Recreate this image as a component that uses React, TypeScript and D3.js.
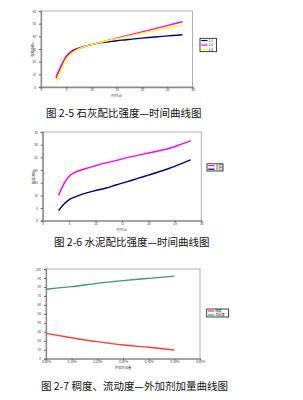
import { useRef, useEffect } from "react";
import * as d3 from "d3";

// figure 2-5: lime mix strength vs time
const limeDays = [3, 4, 5, 6, 7, 8, 10, 12, 14, 16, 18, 20, 22, 24, 26, 28];
const limeA = [7, 16, 24, 28, 30, 31.5, 33.5, 35, 36, 37, 37.8, 38.6, 39.3, 40, 40.6, 41.2];
const limeB = [8, 17, 24, 27.5, 29.5, 31, 33.5, 35.5, 37.5, 39.5, 41.5, 43.5, 45.5, 47.5, 49.5, 51.5];
const limeC = [5, 14, 22, 26.5, 29, 31, 33.5, 35.5, 37.3, 39, 40.8, 42.5, 44.2, 45.9, 47.4, 48.8];
const limeNames = ["1:1", "1:2", "1:3"];
const limeYTicks = [0, 10, 20, 30, 40, 50, 60];

// figure 2-6: cement mix strength vs time
const cementDays = [3, 4, 5, 6, 7, 8, 10, 12, 14, 16, 18, 20, 22, 24, 26, 28];
const cementA = [10, 14.5, 17.5, 19, 19.8, 20.5, 21.7, 22.8, 23.8, 24.9, 25.8, 26.7, 27.6, 28.6, 30, 31.5];
const cementB = [4, 6.5, 8.3, 9.3, 10.1, 10.8, 11.9, 12.9, 14.2, 15.4, 16.7, 18, 19.3, 20.7, 22.3, 24];
const cementNames = ["水泥1", "水泥2"];
const cementYTicks = [0, 5, 10, 15, 20, 25, 30, 35];

const dayTicks = [0, 5, 10, 15, 20, 25, 30];

// figure 2-7: consistency / flow vs admixture dosage
const dosage = [0, 0.1, 0.2, 0.3, 0.4, 0.5];
const consistency = [28.3, 23.4, 19, 15.3, 12.7, 9.7];
const flow = [77.5, 80.3, 84, 87, 89.6, 92];
const admixNames = ["稠度", "流动度"];
const dosageTicks = [0, 0.1, 0.2, 0.3, 0.4, 0.5, 0.6];
const admixYTicks = [0, 10, 20, 30, 40, 50, 60, 70, 80, 90, 100];

const W = 303;
const H = 400;
const cjk = "'Noto Sans CJK SC', 'Noto Sans', sans-serif";

interface Series {
  name: string;
  color: string;
  values: number[];
}

interface Panel {
  box: [number, number, number, number];
  xs: number[];
  series: Series[];
  xDomain: [number, number];
  yDomain: [number, number];
  xTicks: number[];
  yTicks: number[];
  xFmt: (v: number) => string;
  xTitle: string;
  yTitle: string;
  legend: [number, number, number, number];
  caption: string;
  captionX: number;
  captionY: number;
}

function drawPanel(svg: d3.Selection<SVGSVGElement, unknown, null, undefined>, p: Panel) {
  const [l, t, r, b] = p.box;
  const x = d3.scaleLinear().domain(p.xDomain).range([l, r]);
  const y = d3.scaleLinear().domain(p.yDomain).range([b, t]);
  const g = svg.append("g");

  g.append("rect")
    .attr("x", l).attr("y", t).attr("width", r - l).attr("height", b - t)
    .attr("fill", "#fff").attr("stroke", "#b0b0b0").attr("stroke-width", 1);

  const ya = g.append("g")
    .attr("transform", `translate(${l},0)`)
    .call(d3.axisLeft(y).tickValues(p.yTicks).tickSize(2).tickPadding(3));
  const xa = g.append("g")
    .attr("transform", `translate(0,${b})`)
    .call(d3.axisBottom(x).tickValues(p.xTicks).tickSize(1.5).tickPadding(0.5).tickFormat((d) => p.xFmt(+d)));
  [ya, xa].forEach((a) => {
    a.select(".domain").attr("stroke", "#8a8a8a").attr("stroke-width", 1.3);
    a.selectAll(".tick line").attr("stroke", "#666");
    a.selectAll("text").attr("font-size", 3.2).attr("fill", "#444").attr("font-family", cjk);
  });

  g.append("text")
    .attr("x", (l + r) / 2).attr("y", b + 9.8)
    .attr("text-anchor", "middle").attr("font-size", 3.3).attr("fill", "#444")
    .attr("font-family", cjk).text(p.xTitle);
  if (p.yTitle) {
    g.append("text")
      .attr("transform", `translate(${l - 7.5},${(t + b) / 2}) rotate(-90)`)
      .attr("text-anchor", "middle").attr("font-size", 3.4).attr("fill", "#444")
      .attr("font-family", cjk).text(p.yTitle);
  }

  const line = d3.line<number>()
    .x((_, i) => x(p.xs[i]))
    .y((d) => y(d))
    .curve(d3.curveMonotoneX);
  p.series.forEach((s) => {
    g.append("path")
      .attr("d", line(s.values))
      .attr("fill", "none")
      .attr("stroke", s.color)
      .attr("stroke-width", 1.4);
  });

  const [lx, ly, lw, lh] = p.legend;
  g.append("rect")
    .attr("x", lx).attr("y", ly).attr("width", lw).attr("height", lh)
    .attr("fill", "#fff").attr("stroke", "#111").attr("stroke-width", 0.8);
  const row = lh / p.series.length;
  const fs = Math.min(3.2, row * 0.8);
  p.series.forEach((s, i) => {
    const cy = ly + row * (i + 0.5);
    g.append("line")
      .attr("x1", lx + 1.2).attr("x2", lx + 7.5).attr("y1", cy).attr("y2", cy)
      .attr("stroke", s.color).attr("stroke-width", 1.2);
    g.append("text")
      .attr("x", lx + 8.5).attr("y", cy + fs * 0.38)
      .attr("font-size", fs).attr("fill", "#222").attr("font-family", cjk)
      .text(s.name);
  });

  svg.append("text")
    .attr("x", p.captionX).attr("y", p.captionY)
    .attr("font-size", 10.5).attr("fill", "#111").attr("font-family", cjk)
    .text(p.caption);
}

export default function App() {
  const ref = useRef<SVGSVGElement | null>(null);

  useEffect(() => {
    const svg = d3.select(ref.current!);
    svg.selectAll("*").remove();

    drawPanel(svg, {
      box: [41, 11, 192.5, 87],
      xs: limeDays,
      series: [
        { name: limeNames[0], color: "#000080", values: limeA },
        { name: limeNames[1], color: "#ff00ff", values: limeB },
        { name: limeNames[2], color: "#ffff00", values: limeC },
      ],
      xDomain: [0, 30],
      yDomain: [0, 60],
      xTicks: dayTicks,
      yTicks: limeYTicks,
      xFmt: (v) => String(v),
      xTitle: "时间(d)",
      yTitle: "强度(MPa)",
      legend: [200, 38.3, 16.5, 13.4],
      caption: "图 2-5 石灰配比强度—时间曲线图",
      captionX: 46,
      captionY: 117,
    });

    drawPanel(svg, {
      box: [42.7, 132, 201.3, 220.7],
      xs: cementDays,
      series: [
        { name: cementNames[0], color: "#ff00ff", values: cementA },
        { name: cementNames[1], color: "#000080", values: cementB },
      ],
      xDomain: [0, 30],
      yDomain: [0, 35],
      xTicks: dayTicks,
      yTicks: cementYTicks,
      xFmt: (v) => String(v),
      xTitle: "时间(d)",
      yTitle: "强度(MPa)",
      legend: [207, 163.8, 16, 7.2],
      caption: "图 2-6 水泥配比强度—时间曲线图",
      captionX: 54,
      captionY: 246,
    });

    drawPanel(svg, {
      box: [46, 269, 200, 358.7],
      xs: dosage,
      series: [
        { name: admixNames[0], color: "#ff3b3b", values: consistency },
        { name: admixNames[1], color: "#3a9a6a", values: flow },
      ],
      xDomain: [0, 0.6],
      yDomain: [0, 100],
      xTicks: dosageTicks,
      yTicks: admixYTicks,
      xFmt: (v) => `${v.toFixed(2)}%`,
      xTitle: "外加剂加量",
      yTitle: "",
      legend: [206.7, 309, 22, 8],
      caption: "图 2-7 稠度、流动度—外加剂加量曲线图",
      captionX: 41,
      captionY: 390,
    });
  }, []);

  return (
    <svg
      ref={ref}
      width={W}
      height={H}
      viewBox={`0 0 ${W} ${H}`}
      style={{ position: "absolute", left: 0, top: 0, background: "#fff" }}
    />
  );
}
